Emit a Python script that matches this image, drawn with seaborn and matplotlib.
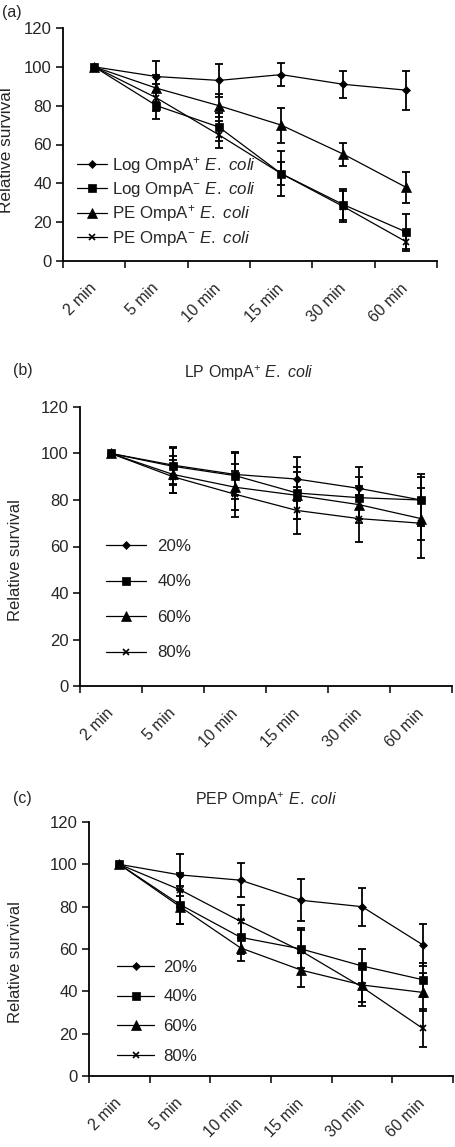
import numpy as np
import pandas as pd
import seaborn as sns
import matplotlib.pyplot as plt

sns.set_style("ticks")
plt.rcParams['font.family'] = ['Liberation Sans', 'DejaVu Sans']
plt.rcParams['mathtext.fontset'] = 'custom'
plt.rcParams['mathtext.rm'] = 'Liberation Sans'
plt.rcParams['mathtext.it'] = 'Liberation Sans:italic'

times = ["2 min", "5 min", "10 min", "15 min", "30 min", "60 min"]

# Panel (a)
a_labels = [r"Log OmpA$^{+}$ $\mathit{E.\ coli}$", r"Log OmpA$^{-}$ $\mathit{E.\ coli}$",
            r"PE OmpA$^{+}$ $\mathit{E.\ coli}$", r"PE OmpA$^{-}$ $\mathit{E.\ coli}$"]
a_log_plus = [100, 95, 93, 96, 91, 88]
a_log_plus_err = [0, 8, 8.5, 6, 7, 10]
a_log_minus = [100, 80, 69, 45, 29, 15]
a_log_minus_err = [0, 7, 7, 11.5, 8, 9]
a_pe_plus = [100, 89, 80, 70, 55, 38]
a_pe_plus_err = [0, 7, 6, 9, 6, 8]
a_pe_minus = [100, 84, 65, 45, 28, 10]
a_pe_minus_err = [0, 7, 7, 6, 8, 5]

# Panel (b)
b_labels = ["20%", "40%", "60%", "80%"]
b_20 = [100, 95, 91, 89, 85, 80]
b_20_err = [0, 8, 9, 9.5, 9, 11]
b_40 = [100, 94.5, 90.5, 83, 81, 80]
b_40_err = [0, 8, 10, 11, 9, 10]
b_60 = [100, 91, 85.5, 82, 78, 72]
b_60_err = [0, 8, 10, 10, 8, 9]
b_80 = [100, 90, 82.5, 75.5, 72, 70]
b_80_err = [0, 7, 10, 10, 10, 15]

# Panel (c)
c_labels = ["20%", "40%", "60%", "80%"]
c_20 = [100, 95, 92.5, 83, 80, 62]
c_20_err = [0, 10, 8, 10, 9, 10]
c_40 = [100, 81, 65.5, 60, 52, 45.5]
c_40_err = [0, 9, 8, 9, 8, 8]
c_60 = [100, 80, 60.5, 50, 43, 39.5]
c_60_err = [0, 8, 6, 8, 8, 9]
c_80 = [100, 88, 73, 59, 42, 22.5]
c_80_err = [0, 8, 8, 11, 9, 9]

markers = ['D', 's', '^', 'x']
msizes = [4.5, 6, 6.5, 5]

W, H = 455, 1147
fig = plt.figure(figsize=(W / 100, H / 100), dpi=100)


def px_axes(l, r, t, b):
    return fig.add_axes([l / W, 1 - b / H, (r - l) / W, (b - t) / H])


FS_TICK = 12
FS_XTICK = 11.3
FS_LEG = 12.2
FS_TITLE = 11.5


def draw_panel(ax, series, errs, labels, leg_xy, hl, htp, ls, ylab_xy, ylab_fs):
    xpos = np.arange(len(times))
    for i, (vals, err, lab) in enumerate(zip(series, errs, labels)):
        df = pd.DataFrame({"x": xpos, "y": vals})
        sns.lineplot(data=df, x="x", y="y", ax=ax, color="black", linewidth=0.9,
                     marker=markers[i], markersize=msizes[i], markeredgecolor="black",
                     markerfacecolor="black", markeredgewidth=1.2 if markers[i] == 'x' else 0.5,
                     label=lab)
        ax.errorbar(xpos[1:], np.array(vals)[1:], yerr=np.array(err)[1:], fmt='none',
                    ecolor='black', elinewidth=1.3, capsize=3.2, capthick=1.3)
    ax.set_xlim(-0.5, 5.5)
    ax.set_ylim(0, 120)
    ax.set_yticks([0, 20, 40, 60, 80, 100, 120])
    ax.set_xticks(np.arange(-0.5, 6.0, 1.0))
    ax.set_xticklabels([])
    ax.set_xticks(xpos, minor=True)
    ax.set_xticklabels(times, minor=True, rotation=45, ha='right', va='center',
                       rotation_mode='anchor', fontsize=FS_XTICK)
    ax.tick_params(axis='x', which='minor', length=0, pad=18)
    ax.tick_params(axis='x', which='major', length=5, width=1.3, direction='out')
    ax.tick_params(axis='y', length=5, width=1.3, labelsize=FS_TICK, pad=3)
    for s in ['top', 'right']:
        ax.spines[s].set_visible(False)
    for s in ['left', 'bottom']:
        ax.spines[s].set_linewidth(1.3)
        ax.spines[s].set_color('black')
    ax.set_xlabel("")
    ax.set_ylabel("Relative survival", fontsize=ylab_fs)
    ax.yaxis.set_label_coords(*ylab_xy)
    ax.legend(loc='upper left', bbox_to_anchor=leg_xy, frameon=False, fontsize=FS_LEG,
              handlelength=hl, handletextpad=htp, labelspacing=ls, borderpad=0,
              borderaxespad=0)


ax_a = px_axes(63, 437, 28, 261)
draw_panel(ax_a, [a_log_plus, a_log_minus, a_pe_plus, a_pe_minus],
           [a_log_plus_err, a_log_minus_err, a_pe_plus_err, a_pe_minus_err],
           a_labels, (0.037, 0.455), 1.8, 0.25, 0.25, (-0.131, 0.476), 12.4)

ax_b = px_axes(80, 452, 407, 686)
draw_panel(ax_b, [b_20, b_40, b_60, b_80], [b_20_err, b_40_err, b_60_err, b_80_err],
           b_labels, (0.070, 0.527), 2.37, 0.65, 1.21, (-0.153, 0.453), 12)

ax_c = px_axes(89, 453, 822, 1076)
draw_panel(ax_c, [c_20, c_40, c_60, c_80], [c_20_err, c_40_err, c_60_err, c_80_err],
           c_labels, (0.077, 0.457), 2.2, 0.53, 0.86, (-0.18, 0.45), 12)

fig.text(2 / W, 1 - 13 / H, "(a)", fontsize=FS_TITLE, va='center', ha='left')
fig.text(13 / W, 1 - 371 / H, "(b)", fontsize=FS_TITLE, va='center', ha='left')
fig.text(249 / W, 1 - 373 / H, r"LP OmpA$^{+}$ $\mathit{E.\ coli}$", fontsize=FS_TITLE,
         va='center', ha='center')
fig.text(13 / W, 1 - 798 / H, "(c)", fontsize=FS_TITLE, va='center', ha='left')
fig.text(266 / W, 1 - 800 / H, r"PEP OmpA$^{+}$ $\mathit{E.\ coli}$", fontsize=FS_TITLE,
         va='center', ha='center')

fig.savefig("out.png", dpi=100)
